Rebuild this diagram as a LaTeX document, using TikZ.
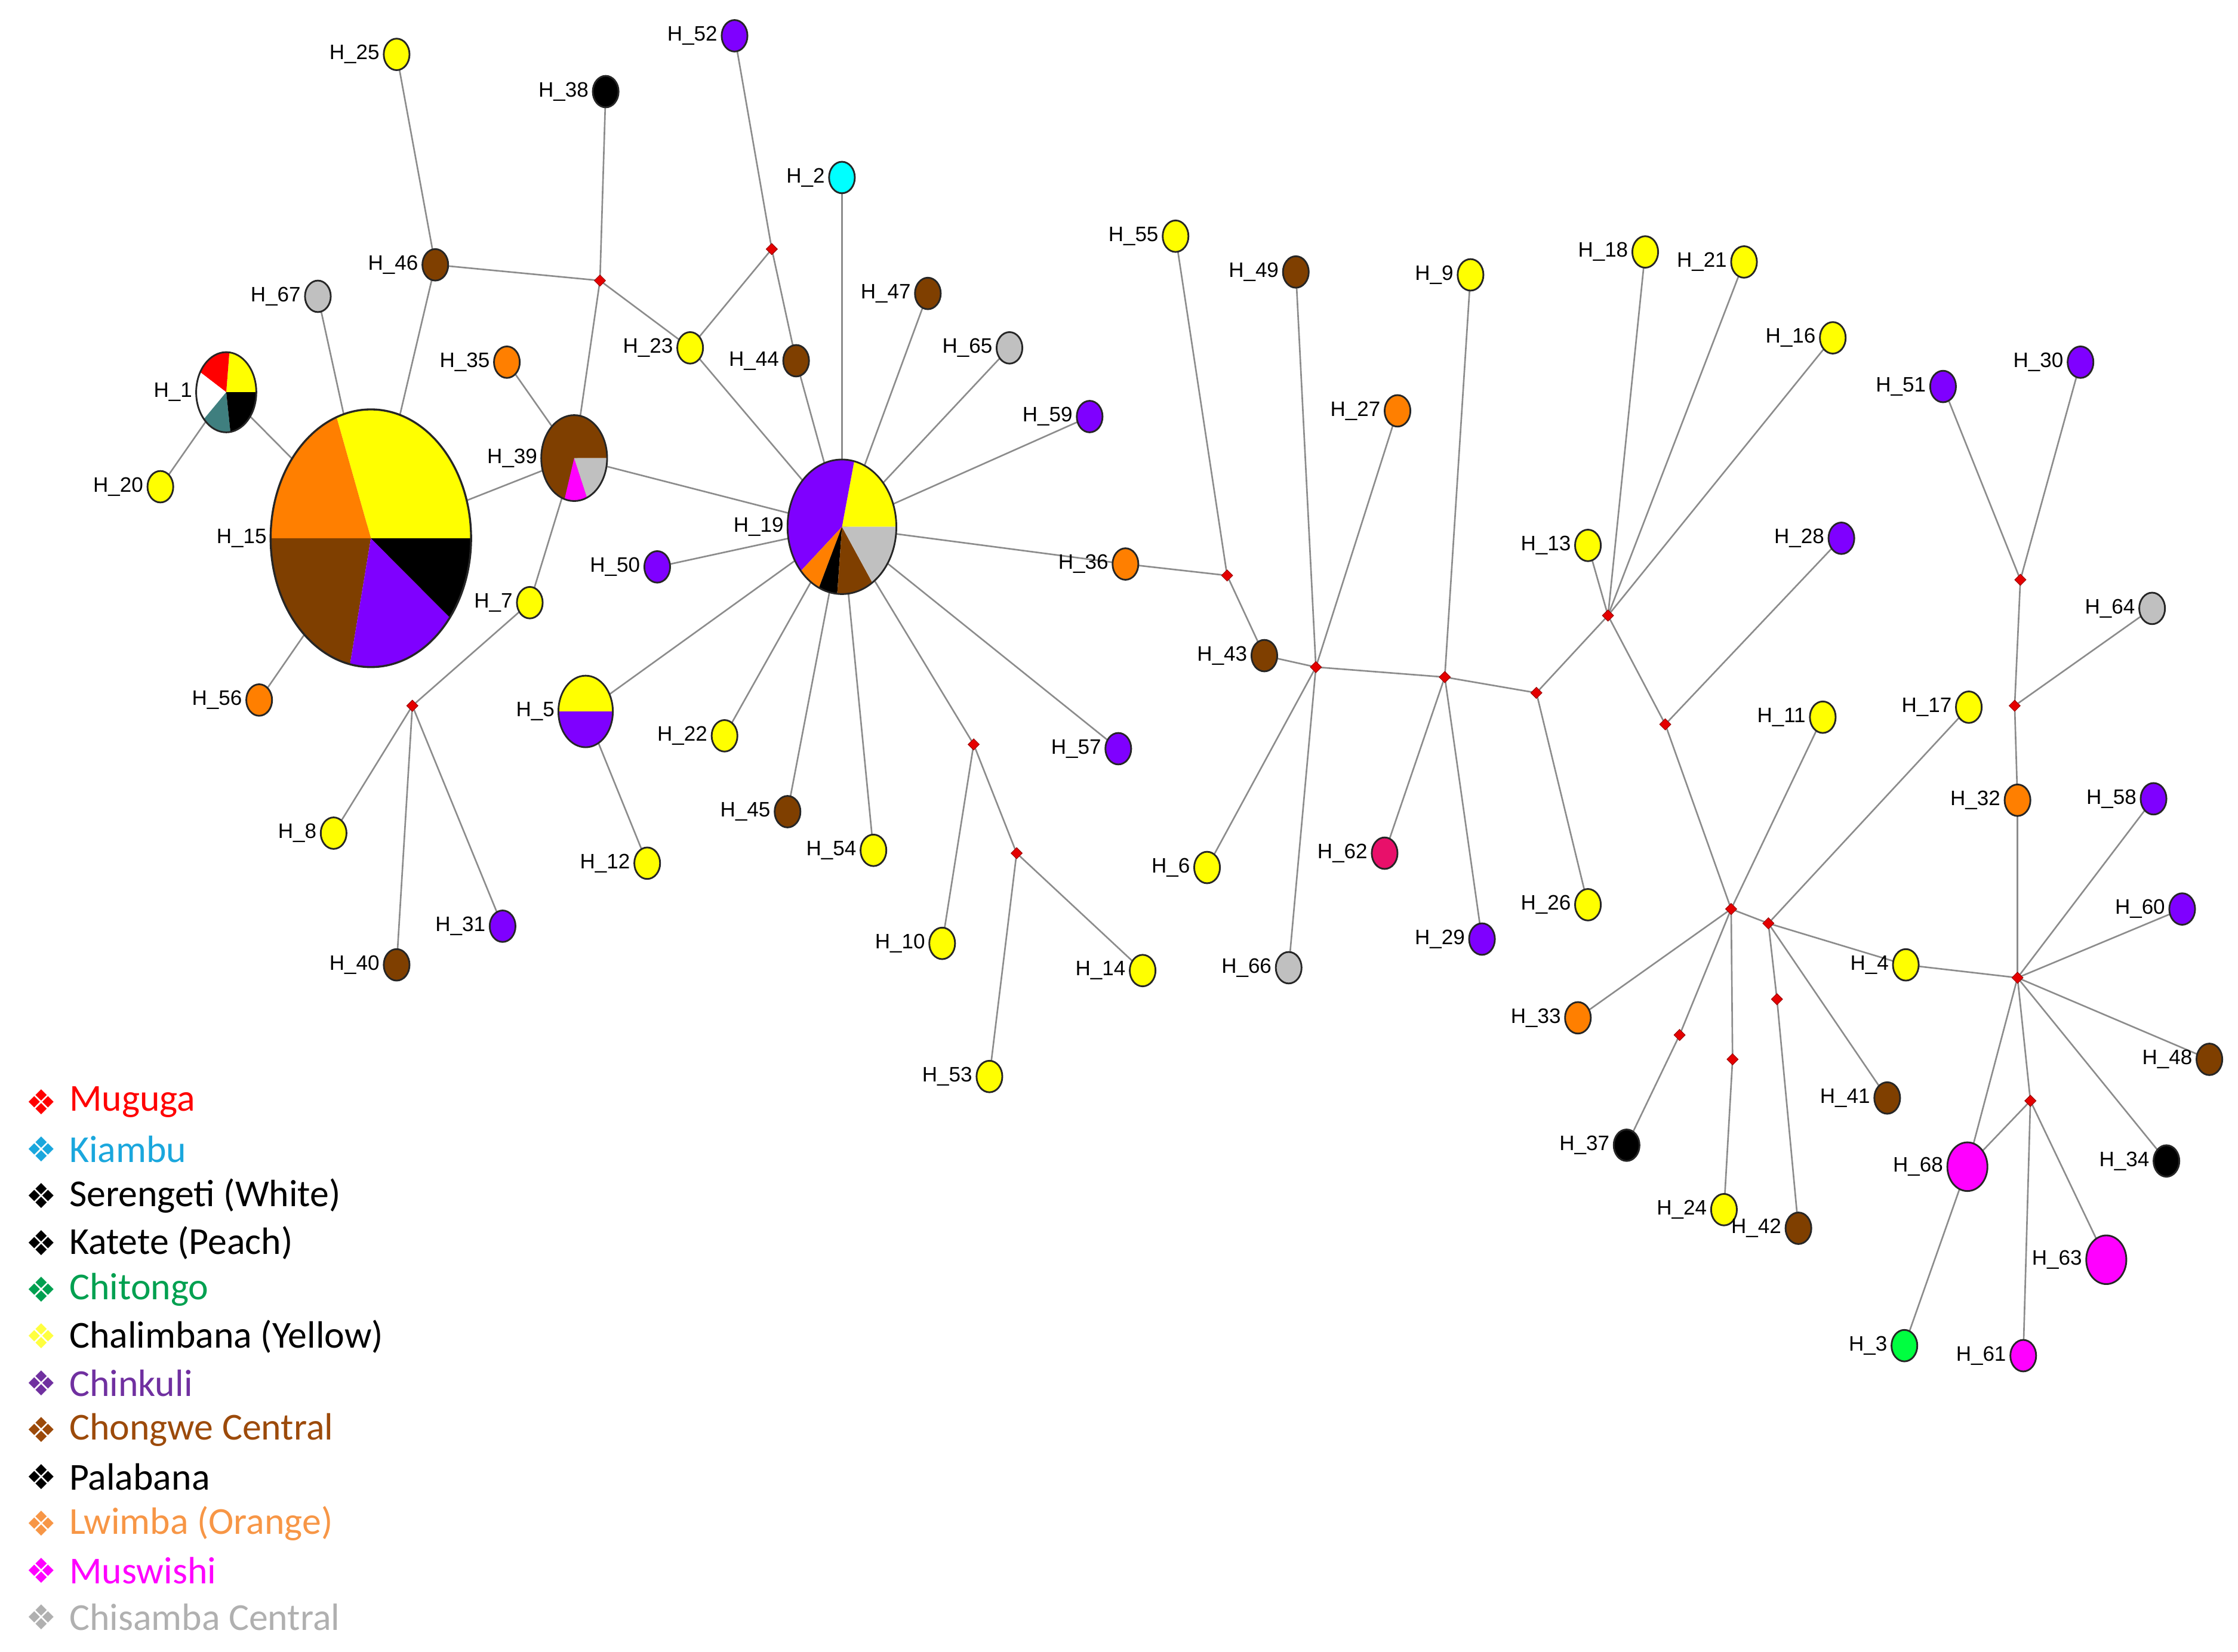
\documentclass[tikz,border=0pt]{standalone}
\usepackage{fontspec}
\setmainfont{Liberation Sans}
\newfontfamily\legfont{Carlito}
\newfontfamily\symfont{DejaVu Sans}
\usetikzlibrary{shapes.geometric,backgrounds}
\definecolor{cY}{HTML}{FFFF00}
\definecolor{cP}{HTML}{7F00FF}
\definecolor{cB}{HTML}{7F3F00}
\definecolor{cO}{HTML}{FF7F00}
\definecolor{cG}{HTML}{C0C0C0}
\definecolor{cC}{HTML}{00FFFF}
\definecolor{cM}{HTML}{FF00FF}
\definecolor{cK}{HTML}{000000}
\definecolor{cR}{HTML}{FF0000}
\definecolor{cT}{HTML}{3F7F7F}
\definecolor{cGr}{HTML}{00FF40}
\definecolor{cCr}{HTML}{E8106A}
\definecolor{lKi}{HTML}{1AA7DD}
\definecolor{lCh}{HTML}{00A050}
\definecolor{lPu}{HTML}{7030A0}
\definecolor{lBr}{HTML}{9C4A0A}
\definecolor{lOr}{HTML}{F79646}
\definecolor{lGy}{HTML}{B0B0B0}
\definecolor{lYe}{HTML}{FFFF40}
\tikzset{
  hap/.style={ellipse,draw=black!85,line width=0.6pt,minimum width=9pt,minimum height=11pt,inner sep=0pt},
  big/.style={ellipse,inner sep=0pt},
  lab/.style={font=\fontsize{7.3}{8}\selectfont,inner sep=1pt},
  mv/.style={diamond,fill=red!90!black,draw=red!60!black,line width=0.2pt,minimum size=4pt,inner sep=0pt},
  edge/.style={draw=black!45,line width=0.55pt},
  legtext/.style={anchor=west,font=\legfont\fontsize{13.3}{15}\selectfont,inner sep=0pt},
  legsym/.style={font=\symfont\fontsize{12}{14}\selectfont,inner sep=0pt}
}
\newcommand{\hp}[5]{\node[hap,fill=#4,label={[lab]left:#5}] (#1) at (#2,#3) {};}
\newcommand{\mvx}[3]{\node[mv] (#1) at (#2,#3) {};}
\newcommand{\sect}[6]{\fill[#6] (#1) -- ++(#4:#2 and #3) arc[start angle=#4,end angle=#5,x radius=#2,y radius=#3] -- cycle;}
\begin{document}
\begin{tikzpicture}[x=0.5pt,y=-0.5pt]
\useasboundingbox (0,0) rectangle (1563,1154);
% pie nodes
\node[big,minimum width=70pt,minimum height=90pt,label={[lab]left:H\_15}] (H15) at (259,376) {};
\sect{H15.center}{35pt}{45pt}{0}{110}{cY}
\sect{H15.center}{35pt}{45pt}{110}{180}{cO}
\sect{H15.center}{35pt}{45pt}{180}{258}{cB}
\sect{H15.center}{35pt}{45pt}{258}{322}{cP}
\sect{H15.center}{35pt}{45pt}{322}{360}{cK}
\draw[black!85,line width=0.7pt] (H15.center) ellipse[x radius=35pt,y radius=45pt];
\node[big,minimum width=21pt,minimum height=28pt,label={[lab]left:H\_1}] (H1) at (158,274) {};
\sect{H1.center}{10.5pt}{14pt}{0}{84}{cY}
\sect{H1.center}{10.5pt}{14pt}{84}{150}{cR}
\sect{H1.center}{10.5pt}{14pt}{150}{222}{white}
\sect{H1.center}{10.5pt}{14pt}{222}{278}{cT}
\sect{H1.center}{10.5pt}{14pt}{278}{360}{cK}
\draw[black!85,line width=0.6pt] (H1.center) ellipse[x radius=10.5pt,y radius=14pt];
\node[big,minimum width=23pt,minimum height=30pt,label={[lab]left:H\_39}] (H39) at (401,320) {};
\sect{H39.center}{11.5pt}{15pt}{0}{293}{cB}
\sect{H39.center}{11.5pt}{15pt}{253}{293}{cM}
\sect{H39.center}{11.5pt}{15pt}{293}{360}{cG}
\draw[black!85,line width=0.6pt] (H39.center) ellipse[x radius=11.5pt,y radius=15pt];
\node[big,minimum width=38pt,minimum height=47pt,label={[lab]left:H\_19}] (H19) at (588,368) {};
\sect{H19.center}{19pt}{23.5pt}{0}{77}{cY}
\sect{H19.center}{19pt}{23.5pt}{77}{221}{cP}
\sect{H19.center}{19pt}{23.5pt}{221}{245}{cO}
\sect{H19.center}{19pt}{23.5pt}{245}{265}{cK}
\sect{H19.center}{19pt}{23.5pt}{265}{304}{cB}
\sect{H19.center}{19pt}{23.5pt}{304}{360}{cG}
\draw[black!85,line width=0.6pt] (H19.center) ellipse[x radius=19pt,y radius=23.5pt];
\node[big,minimum width=19pt,minimum height=25pt,label={[lab]left:H\_5}] (H5) at (409,497) {};
\sect{H5.center}{9.5pt}{12.5pt}{0}{180}{cY}
\sect{H5.center}{9.5pt}{12.5pt}{180}{360}{cP}
\draw[black!85,line width=0.6pt] (H5.center) ellipse[x radius=9.5pt,y radius=12.5pt];
% haplotypes
\hp{H25}{277}{38}{cY}{H\_25}
\hp{H38}{423}{64}{cK}{H\_38}
\hp{H52}{513}{25}{cP}{H\_52}
\hp{H2}{588}{124}{cC}{H\_2}
\hp{H55}{821}{165}{cY}{H\_55}
\hp{H49}{905}{190}{cB}{H\_49}
\hp{H9}{1027}{192}{cY}{H\_9}
\hp{H18}{1149}{176}{cY}{H\_18}
\hp{H21}{1218}{183}{cY}{H\_21}
\hp{H16}{1280}{236}{cY}{H\_16}
\hp{H30}{1453}{253}{cP}{H\_30}
\hp{H51}{1357}{270}{cP}{H\_51}
\hp{H46}{304}{185}{cB}{H\_46}
\hp{H67}{222}{207}{cG}{H\_67}
\hp{H47}{648}{205}{cB}{H\_47}
\hp{H65}{705}{243}{cG}{H\_65}
\hp{H23}{482}{243}{cY}{H\_23}
\hp{H44}{556}{252}{cB}{H\_44}
\hp{H35}{354}{253}{cO}{H\_35}
\hp{H27}{976}{287}{cO}{H\_27}
\hp{H59}{761}{291}{cP}{H\_59}
\hp{H20}{112}{340}{cY}{H\_20}
\hp{H50}{459}{396}{cP}{H\_50}
\hp{H36}{786}{394}{cO}{H\_36}
\hp{H13}{1109}{381}{cY}{H\_13}
\hp{H28}{1286}{376}{cP}{H\_28}
\hp{H64}{1503}{425}{cG}{H\_64}
\hp{H7}{370}{421}{cY}{H\_7}
\hp{H43}{883}{458}{cB}{H\_43}
\hp{H56}{181}{489}{cO}{H\_56}
\hp{H22}{506}{514}{cY}{H\_22}
\hp{H57}{781}{523}{cP}{H\_57}
\hp{H11}{1273}{501}{cY}{H\_11}
\hp{H17}{1375}{494}{cY}{H\_17}
\hp{H8}{233}{582}{cY}{H\_8}
\hp{H45}{550}{567}{cB}{H\_45}
\hp{H54}{610}{594}{cY}{H\_54}
\hp{H12}{452}{603}{cY}{H\_12}
\hp{H6}{843}{606}{cY}{H\_6}
\hp{H62}{967}{596}{cCr}{H\_62}
\hp{H32}{1409}{559}{cO}{H\_32}
\hp{H58}{1504}{558}{cP}{H\_58}
\hp{H31}{351}{647}{cP}{H\_31}
\hp{H40}{277}{674}{cB}{H\_40}
\hp{H10}{658}{659}{cY}{H\_10}
\hp{H14}{798}{678}{cY}{H\_14}
\hp{H66}{900}{676}{cG}{H\_66}
\hp{H29}{1035}{656}{cP}{H\_29}
\hp{H26}{1109}{632}{cY}{H\_26}
\hp{H60}{1524}{635}{cP}{H\_60}
\hp{H4}{1331}{674}{cY}{H\_4}
\hp{H33}{1102}{711}{cO}{H\_33}
\hp{H53}{691}{752}{cY}{H\_53}
\hp{H41}{1318}{767}{cB}{H\_41}
\hp{H48}{1543}{740}{cB}{H\_48}
\hp{H37}{1136}{800}{cK}{H\_37}
\hp{H34}{1513}{811}{cK}{H\_34}
\hp{H24}{1204}{845}{cY}{H\_24}
\hp{H42}{1256}{858}{cB}{H\_42}
\hp{H3}{1330}{940}{cGr}{H\_3}
\hp{H61}{1413}{947}{cM}{H\_61}
\node[hap,fill=cM,minimum width=14pt,minimum height=17pt,label={[lab]left:H\_68}] (H68) at (1374,815) {};
\node[hap,fill=cM,minimum width=14pt,minimum height=17pt,label={[lab]left:H\_63}] (H63) at (1471,880) {};
% median vectors
\mvx{m1}{419}{196}\mvx{m2}{539}{174}\mvx{m3}{288}{493}\mvx{m4}{680}{520}
\mvx{m5}{710}{596}\mvx{m6}{857}{402}\mvx{m7}{919}{466}\mvx{m8}{1009}{473}
\mvx{m9}{1073}{484}\mvx{m10}{1123}{430}\mvx{m11}{1163}{506}\mvx{m12}{1209}{635}
\mvx{m13}{1235}{645}\mvx{m14}{1173}{723}\mvx{m15}{1210}{740}\mvx{m16}{1241}{698}
\mvx{m17}{1411}{405}\mvx{m18}{1407}{493}\mvx{m19}{1409}{683}\mvx{m20}{1418}{769}
% edges
\begin{scope}[on background layer]
\foreach \a/\b in {H25/H46,H46/H15,H46/m1,m1/H38,m1/H39,m1/H23,H23/m2,m2/H52,m2/H44,
 H44/H19,H23/H19,H2/H19,H47/H19,H65/H19,H59/H19,H36/H19,H36/m6,m6/H55,m6/H43,H57/H19,
 m4/H19,m4/H10,m4/m5,m5/H14,m5/H53,H54/H19,H45/H19,H22/H19,H5/H19,H50/H19,H39/H19,
 H39/H15,H35/H39,H39/H7,H7/m3,m3/H8,m3/H40,m3/H31,H1/H15,H1/H20,H67/H15,H56/H15,H5/H12,
 H43/m7,m7/H49,m7/H27,m7/H6,m7/H66,m7/m8,m8/H9,m8/H62,m8/H29,m8/m9,m9/H26,m9/m10,
 m10/H18,m10/H21,m10/H16,m10/H13,m10/m11,m11/H28,m11/m12,m12/H11,m12/H33,m12/m14,m14/H37,
 m12/m15,m15/H24,m12/m13,m13/m16,m16/H42,m13/H41,m13/H17,m13/H4,H4/m19,m19/H32,H32/m18,
 m18/H64,m18/m17,m17/H51,m17/H30,m19/H58,m19/H60,m19/H48,m19/H34,m19/m20,m20/H63,
 m20/H61,m19/H68,m20/H68,H68/H3}
  \draw[edge] (\a.center) -- (\b.center);
\end{scope}
% legend
\foreach \i/\t/\tc/\dc in {0/Muguga/cR/cR,1/Kiambu/lKi/lKi,2/Serengeti (White)/black/black,
 3/Katete (Peach)/black/black,4/Chitongo/lCh/lCh,5/Chalimbana (Yellow)/black/lYe,
 6/Chinkuli/lPu/lPu,7/Chongwe Central/lBr/lBr,8/Palabana/black/black,
 9/Lwimba (Orange)/lOr/lOr,10/Muswishi/cM/cM,11/Chisamba Central/lGy/lGy}{
  \node[legsym,text=\dc] (s\i) at (29,{770+32.7*\i}) {❖};
  \node[legtext,text=\tc] (t\i) at (48,{770+32.7*\i}) {\t};
}
\end{tikzpicture}
\end{document}
